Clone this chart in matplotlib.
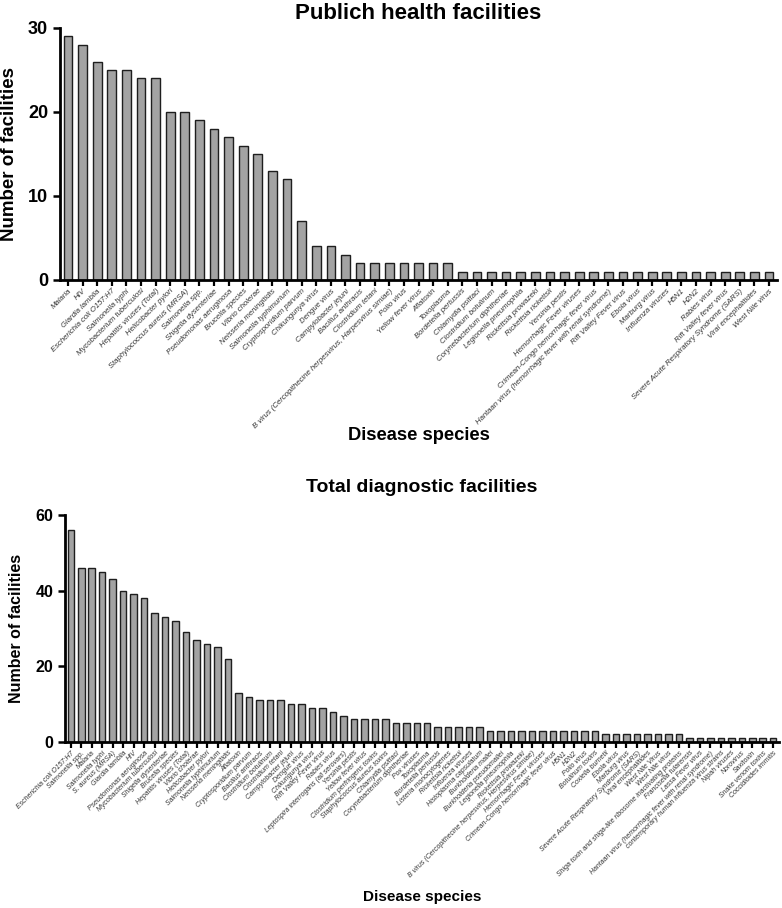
import matplotlib
matplotlib.use("Agg")
import matplotlib.pyplot as plt

plt.rcParams['font.family'] = ['Liberation Sans', 'DejaVu Sans']

# Public health facilities
ph_species = [
    "Malaria", "HIV", "Giardia lamblia", "Escherichia coli O157:H7", "Salmonella typhi",
    "Mycobacterium tuberculosi", "Hepatitis viruses (Total)", "Helicobacter pylori",
    "Staphylococcus aureus (MRSA)", "Salmonella spp.", "Shigella dysenteriae",
    "Pseudomonas aeruginosa", "Brucella species", "Vibrio cholerae", "Neisseria meningitidis",
    "Salmonella typhimurium", "Cryptosporidium parvum", "Chikungunya virus", "Dengue virus",
    "Campylobacter jejuni", "Bacillus anthracis", "Clostridium tetani",
    "B virus (Cercopithecine herpesvirus, Harpesvirus simiae)", "Polio virus",
    "Yellow fever virus", "Aflatoxin", "Toxoplasma", "Bordetella pertussis",
    "Chlamydia psittaci", "Clostridium botulinum", "Corynebacterium diphtheriae",
    "Legionella pneumophila", "Rickettsia prowazeki", "Rickettsia rickettsii",
    "Yersinia pestis", "Hemorrhagic Fever viruses", "Crimean-Congo hemorrhagic fever virus",
    "Hantaan virus (hemorrhagic fever with renal syndrome)", "Rift Valley Fever virus",
    "Ebola virus", "Marburg virus", "Influenza viruses", "H5N1", "H2N2", "Rabies virus",
    "Rift Valley fever virus", "Severe Acute Respiratory Syndrome (SARS)",
    "Viral encephalitides", "West Nile virus",
]
ph_counts = [29, 28, 26, 25, 25, 24, 24, 20, 20, 19, 18, 17, 16, 15, 13, 12, 7, 4, 4, 3,
             2, 2, 2, 2, 2, 2, 2,
             1, 1, 1, 1, 1, 1, 1, 1, 1, 1, 1, 1, 1, 1, 1, 1, 1, 1, 1, 1, 1, 1]

# Total diagnostic facilities
td_species = [
    "Escherichia coli O157:H7", "Salmonella spp.", "Malaria", "Salmonella typhi",
    "S. aureus (MRSA)", "Giardia lamblia", "HIV", "Pseudomonas aeruginosa",
    "Mycobacterium tuberculosi", "Shigella dysenteriae", "Brucella species",
    "Hepatitis viruses (Total)", "Vibrio cholerae", "Helicobacter pylori",
    "Salmonella typhimurium", "Neisseria meningitidis", "Aflatoxin", "Cryptosporidium parvum",
    "Bacillus anthracis", "Clostridium botulinum", "Clostridium tetani", "Campylobacter jejuni",
    "Dengue virus", "Chikungunya virus", "Rift Valley Fever virus", "Rabies virus",
    "Leptospira interrogans (all serovars)", "Yersinia pestis", "Yellow fever virus",
    "Clostridium perfringens toxins", "Staphylococcus aureus toxins", "Chlamydia psittaci",
    "Corynebacterium diphtheriae", "Pox viruses", "Toxoplasma", "Bordetella pertussis",
    "Listeria monocytogenes", "Rickettsia rickettsii", "Influenza viruses",
    "Histoplasma capsulatum", "Burkholderia mallei", "Burkholderia pseudomallei",
    "Legionella pneumophila", "Rickettsia prowazeki",
    "B virus (Cercopithecine herpesvirus, Herpesvirus simiae)", "Hemorrhagic Fever viruses",
    "Crimean-Congo hemorrhagic fever virus", "H5N1", "H2N2", "Polio virus", "Botulinum toxins",
    "Coxiella burnetii", "Ebola virus", "Marburg virus",
    "Severe Acute Respiratory Syndrome (SARS)", "Viral encephalitides", "West Nile Virus",
    "West Nile virus", "Shiga toxin and shiga-like ribosome inactivating proteins",
    "Francisella tularensis", "Lassa Fever virus",
    "Hantaan virus (hemorrhagic fever with renal syndrome)",
    "contemporary human influenza virus strains", "Nipah viruses", "Norovirus", "Saxitoxin",
    "Snake venom toxins", "Coccidioides immitis",
]
td_counts = [56, 46, 46, 45, 43, 40, 39, 38, 34, 33, 32, 29, 27, 26, 25, 22,
             13, 12, 11, 11, 11, 10, 10, 9, 9, 8, 7, 6, 6, 6, 6, 5, 5, 5, 5,
             4, 4, 4, 4, 4,
             3, 3, 3, 3, 3, 3, 3, 3, 3, 3, 3,
             2, 2, 2, 2, 2, 2, 2, 2,
             1, 1, 1, 1, 1, 1, 1, 1, 1]

W, H = 782, 908
fig = plt.figure(figsize=(W / 100, H / 100), dpi=100)


def draw_panel(rect, species, counts, ymax, yticks, title, title_fs, title_base,
               tick_fs, ylab_fs, ylab_x, xlab_fs, xlab_base, xfs, width):
    ax = fig.add_axes(rect)
    x = list(range(len(species)))
    ax.bar(x, counts, width=width, color="#a3a3a3", edgecolor="#1e1e1e", linewidth=1.0)
    ax.set_xlim(-0.55, len(species) - 0.45)
    ax.set_ylim(0, ymax)
    ax.set_yticks(yticks)
    ax.set_xticks(x)
    ax.set_xticklabels(species, rotation=45, ha="right", rotation_mode="anchor",
                       fontsize=xfs, style="italic", color="#333333")
    for s in ["top", "right"]:
        ax.spines[s].set_visible(False)
    for s in ["left", "bottom"]:
        ax.spines[s].set_linewidth(2.0)
    ax.tick_params(axis="y", length=5, width=1.8, labelsize=tick_fs, direction="out")
    ax.tick_params(axis="x", length=4, width=1.6, direction="out", pad=1.5)
    for t in ax.get_yticklabels():
        t.set_fontweight("bold")
    ax.set_ylabel("Number of facilities", fontsize=ylab_fs, fontweight="bold")
    ax.yaxis.set_label_coords(ylab_x, 0.5)
    cx = rect[0] + rect[2] / 2
    fig.text(cx, 1 - xlab_base / H, "Disease species", ha="center", va="baseline",
             fontsize=xlab_fs, fontweight="bold")
    fig.text(cx, 1 - title_base / H, title, ha="center", va="baseline",
             fontsize=title_fs, fontweight="bold")
    return ax


# top panel: axis from x=60..777 px, y=28..280 px
draw_panel([60 / W, 1 - 280 / H, 717 / W, 252 / H], ph_species, ph_counts, 30, [0, 10, 20, 30],
           "Publich health facilities", 16, 19, 13, 13.5, -0.058, 13.2, 440, 5.6, 0.6)

# bottom panel: axis from x=65..779 px, y=515..742 px
draw_panel([65 / W, 1 - 742 / H, 714 / W, 227 / H], td_species, td_counts, 60, [0, 20, 40, 60],
           "Total diagnostic facilities", 14, 492, 11.5, 11.5, -0.057, 11, 901, 5.0, 0.62)

fig.savefig("out.png", dpi=100)
